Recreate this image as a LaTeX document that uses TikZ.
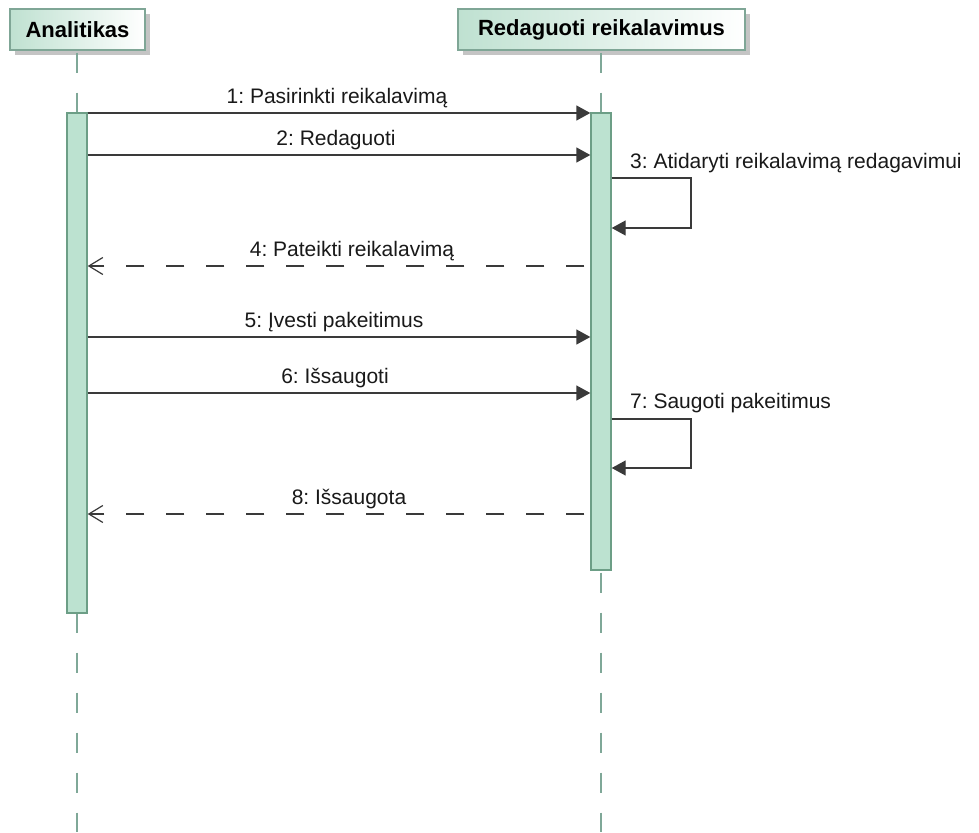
\documentclass[tikz,border=0pt]{standalone}
\usepackage{fontspec}
\setmainfont{Liberation Sans}
\usetikzlibrary{arrows.meta,shadows}

\definecolor{hdrgreen}{HTML}{BFE1D1}
\definecolor{hdrborder}{HTML}{7FA696}
\definecolor{shadowgray}{HTML}{C4C4C4}
\definecolor{lifecol}{HTML}{7FA898}
\definecolor{actfill}{HTML}{BCE2D0}
\definecolor{actborder}{HTML}{6C9E86}
\definecolor{msgcol}{HTML}{3A3A3A}

\tikzset{
  header/.style={draw=hdrborder, line width=1.2pt, left color=hdrgreen, right color=white,
    inner sep=0pt, minimum height=41pt, text=black,
    font=\fontsize{22}{26}\selectfont\bfseries,
    drop shadow={shadow xshift=5pt, shadow yshift=-5pt, fill=shadowgray, opacity=1}},
  lifeline/.style={draw=lifecol, line width=1.4pt, dash pattern=on 20pt off 20pt, dash phase=-2pt},
  actbar/.style={draw=actborder, fill=actfill, line width=1.4pt, inner sep=0pt, minimum width=20pt},
  msg/.style={draw=msgcol, line width=1.4pt, -{Triangle[length=14pt,width=15pt]}},
  retmsg/.style={draw=msgcol, line width=1.3pt, dash pattern=on 18pt off 22pt, dash phase=34pt,
    -{Straight Barb[length=14pt,width=17pt,line width=1.2pt]}},
  lbl/.style={anchor=base, inner sep=0pt, text=black!90, font=\fontsize{21}{25}\selectfont},
}

\begin{document}
\begin{tikzpicture}[x=1pt,y=-1pt]
\useasboundingbox[fill=white] (0,0) rectangle (979,832);

% participants
\node[header, minimum width=135pt] (hA) at (77.5,29.5) {Analitikas};
\node[header, minimum width=287pt] (hR) at (601.5,29.5) {Redaguoti reikalavimus};

% lifelines
\coordinate (endA) at (77,832);
\coordinate (endR) at (601,832);
\draw[lifeline] (hA.south -| endA) -- (endA);
\draw[lifeline] (hR.south -| endR) -- (endR);

% activation bars
\node[actbar, minimum height=500pt] (barA) at (77,363) {};
\node[actbar, minimum height=457pt] (barR) at (601,341.5) {};

% message rows
\coordinate (y1) at (0,113);
\coordinate (y2) at (0,155);
\coordinate (y3a) at (0,178);
\coordinate (y3b) at (0,228);
\coordinate (y4) at (0,266);
\coordinate (y5) at (0,337);
\coordinate (y6) at (0,393);
\coordinate (y7a) at (0,419);
\coordinate (y7b) at (0,468);
\coordinate (y8) at (0,514);
\coordinate (loopx) at (691,0);

% calls
\draw[msg] (barA.east |- y1) -- (barR.west |- y1);
\draw[msg] (barA.east |- y2) -- (barR.west |- y2);
\draw[msg] (barR.east |- y3a) -- (loopx |- y3a) -- (loopx |- y3b) -- (barR.east |- y3b);
\draw[retmsg] (barR.west |- y4) -- (barA.east |- y4);
\draw[msg] (barA.east |- y5) -- (barR.west |- y5);
\draw[msg] (barA.east |- y6) -- (barR.west |- y6);
\draw[msg] (barR.east |- y7a) -- (loopx |- y7a) -- (loopx |- y7b) -- (barR.east |- y7b);
\draw[retmsg] (barR.west |- y8) -- (barA.east |- y8);

% labels
\node[lbl] (l1) at (337,103) {1:\ Pasirinkti reikalavimą};
\node[lbl] (l2) at (336,145) {2:\ Redaguoti};
\node[lbl, anchor=base west] (l3) at (630,168) {3:\ Atidaryti reikalavimą redagavimui};
\node[lbl] (l4) at (352,256) {4:\ Pateikti reikalavimą};
\node[lbl] (l5) at (334,327) {5:\ Įvesti pakeitimus};
\node[lbl] (l6) at (335,383) {6:\ Išsaugoti};
\node[lbl, anchor=base west] (l7) at (630,408) {7:\ Saugoti pakeitimus};
\node[lbl] (l8) at (349,504) {8:\ Išsaugota};
\end{tikzpicture}
\end{document}
